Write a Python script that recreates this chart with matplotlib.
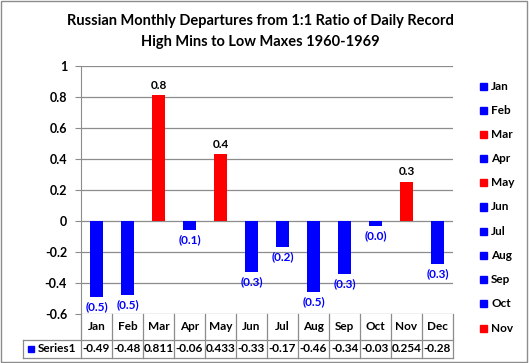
import numpy as np
import matplotlib.pyplot as plt
from matplotlib.patches import Rectangle
from matplotlib.lines import Line2D

months = ['Jan', 'Feb', 'Mar', 'Apr', 'May', 'Jun', 'Jul', 'Aug', 'Sep', 'Oct', 'Nov', 'Dec']
values = [-0.49, -0.48, 0.811, -0.06, 0.433, -0.33, -0.17, -0.46, -0.34, -0.03, 0.254, -0.28]
table_text = ['-0.49', '-0.48', '0.811', '-0.06', '0.433', '-0.33', '-0.17', '-0.46', '-0.34', '-0.03', '0.254', '-0.28']
yticks = [1, 0.8, 0.6, 0.4, 0.2, 0, -0.2, -0.4, -0.6]

plt.rcParams['font.family'] = ['Lato', 'DejaVu Sans']
plt.rcParams['font.weight'] = 'bold'

W, H = 529, 363
fig = plt.figure(figsize=(W / 100, H / 100), dpi=100)

def fx(px):
    return px / W

def fy(py):
    return 1 - py / H

L, R, T, B = 81, 453, 66, 314
ax = fig.add_axes([fx(L), fy(B), fx(R) - fx(L), fy(T) - fy(B)])

colors = ['red' if v > 0 else 'blue' for v in values]
x = np.arange(len(months))
ax.bar(x, values, width=0.42, color=colors, zorder=3)
ax.set_xlim(-0.5, 11.5)
ax.set_ylim(-0.6, 1)
ax.set_yticks(yticks)
ax.set_yticklabels([f'{t:g}' for t in yticks], fontsize=9, fontweight='bold')
ax.set_xticks([])
ax.grid(axis='y', color='#8c8c8c', linewidth=0.9, zorder=0)
for s in ['top', 'right', 'bottom']:
    ax.spines[s].set_visible(False)
ax.spines['left'].set_color('#8c8c8c')
ax.tick_params(axis='y', direction='out', length=4, color='#8c8c8c', pad=6)

for i, v in enumerate(values):
    if v > 0:
        ax.annotate(f'{v:.1f}', (i, v), xytext=(0, 3), textcoords='offset points',
                    ha='center', va='bottom', fontsize=8.5, fontweight='bold', color='black')
    else:
        ax.annotate(f'({abs(v):.1f})', (i, v), xytext=(0, -3), textcoords='offset points',
                    ha='center', va='top', fontsize=8.5, color='blue')

fig.text(0.493, fy(21), 'Russian Monthly Departures from 1:1 Ratio of Daily Record',
         ha='center', va='center', fontsize=10.5, fontweight='bold')
fig.text(0.493, fy(42), 'High Mins to Low Maxes 1960-1969',
         ha='center', va='center', fontsize=10.5, fontweight='bold')

# data table
grey = '#8c8c8c'
cw = (R - L) / 12
r1, r2, r3 = B, 340, 358
def hline(y, x0, x1):
    fig.add_artist(Line2D([fx(x0), fx(x1)], [fy(y), fy(y)], color=grey, lw=0.9))
def vline(xp, y0, y1):
    fig.add_artist(Line2D([fx(xp), fx(xp)], [fy(y0), fy(y1)], color=grey, lw=0.9))
hline(r2, 23, R)
hline(r3, 23, R)
vline(23, r2, r3)
for i in range(13):
    vline(L + i * cw, r1, r3)
for i, m in enumerate(months):
    cx = L + (i + 0.5) * cw
    fig.text(fx(cx), fy((r1 + r2) / 2), m, ha='center', va='center', fontsize=8.5, fontweight='bold')
    fig.text(fx(cx), fy((r2 + r3) / 2), table_text[i], ha='center', va='center', fontsize=8.5, fontweight='bold')
fig.add_artist(Rectangle((fx(28), fy(352)), fx(6), fy(346) - fy(352), color='blue'))
fig.text(fx(38), fy((r2 + r3) / 2), 'Series1', ha='left', va='center', fontsize=8.5, fontweight='bold')

# legend
for i, m in enumerate(months[:11]):
    yc = 86 + i * 24.2
    fig.add_artist(Rectangle((fx(480), fy(yc + 3.5)), fx(7), fy(yc - 3.5) - fy(yc + 3.5), color=colors[i]))
    fig.text(fx(491), fy(yc), m, ha='left', va='center', fontsize=8.5, fontweight='bold')

fig.add_artist(Rectangle((0.002, 0.003), 0.994, 0.994, fill=False, edgecolor='#8c8c8c', lw=1))

fig.savefig('out.png', dpi=100)
